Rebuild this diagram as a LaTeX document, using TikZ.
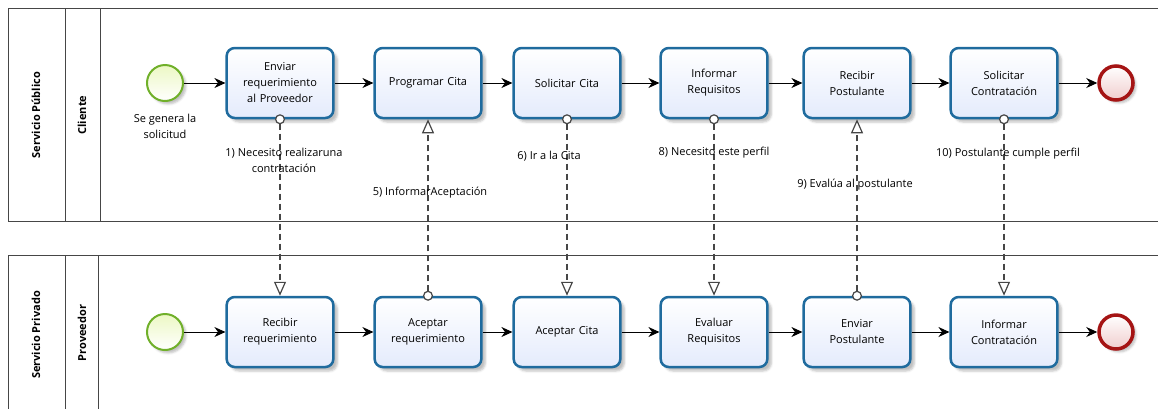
\documentclass[tikz,border=0pt]{standalone}
\usepackage{fontspec}
\setmainfont{Open Sans}
\usetikzlibrary{arrows.meta,positioning,shadows.blur}
\definecolor{azulTarea}{RGB}{31,107,158}
\definecolor{azulClaro}{RGB}{228,235,252}
\definecolor{verdeInicio}{RGB}{112,176,42}
\definecolor{verdeClaro}{RGB}{236,248,196}
\definecolor{rojoFin}{RGB}{165,20,20}
\definecolor{rojoClaro}{RGB}{240,205,205}
\definecolor{grisLinea}{RGB}{70,70,70}

\begin{document}
\begin{tikzpicture}[x=1pt,y=-1pt,font=\fontsize{11}{16}\selectfont,
  tarea/.style={rectangle,rounded corners=8pt,minimum width=104pt,minimum height=70pt,
               text width=100pt,align=center,draw=azulTarea,line width=2.5pt,
               top color=white,bottom color=azulClaro,
               blur shadow={shadow xshift=4pt,shadow yshift=-4pt,shadow opacity=25}},
  inicio/.style={circle,minimum size=36pt,inner sep=0pt,draw=verdeInicio,line width=2pt,
               top color=verdeClaro,bottom color=white,
               blur shadow={shadow xshift=3pt,shadow yshift=-3pt,shadow opacity=25}},
  fin/.style={circle,minimum size=34pt,inner sep=0pt,draw=rojoFin,line width=3.5pt,
               top color=white,bottom color=rojoClaro,
               blur shadow={shadow xshift=3pt,shadow yshift=-3pt,shadow opacity=25}},
  flujo/.style={-{Stealth[length=11pt,width=10pt]},line width=1pt,black},
  mensaje/.style={{Circle[open,length=10pt,width=10pt,fill=white]}-{Triangle[open,length=14pt,width=12pt,fill=white]},
               grisLinea,line width=1.2pt,dash pattern=on 6pt off 4pt,shorten <=-5pt},
  etiqueta/.style={align=center,text=black,inner sep=0pt}]

  \useasboundingbox (0,0) rectangle (1158,408);
  \clip (0,0) rectangle (1158,408);

  % piscinas
  \draw[grisLinea,line width=1pt] (8,8) rectangle (1170,221);
  \draw[grisLinea,line width=1pt] (65,8) -- (65,221) (100,8) -- (100,221);
  \draw[grisLinea,line width=1pt] (8,255) rectangle (1170,430);
  \draw[grisLinea,line width=1pt] (65,255) -- (65,430) (98,255) -- (98,430);
  \node[rotate=90,font=\fontsize{11}{12}\selectfont\bfseries] (PoolA) at (36,115) {Servicio Público};
  \node[rotate=90,font=\fontsize{11}{12}\selectfont\bfseries] (LaneA) at (82,115) {Cliente};
  \node[rotate=90,font=\fontsize{11}{12}\selectfont\bfseries] (PoolB) at (36,335) {Servicio Privado};
  \node[rotate=90,font=\fontsize{11}{12}\selectfont\bfseries] (LaneB) at (82,333) {Proveedor};

  % cliente
  \node[inicio] (IC) at (165,83) {};
  \node[etiqueta,below=12pt of IC] (ICtxt) {Se genera la\\solicitud};
  \node[tarea] (C1) at (280,83) {Enviar\\requerimiento\\al Proveedor};
  \node[tarea] (C2) at (428,83) {Programar Cita};
  \node[tarea] (C3) at (567,83) {Solicitar Cita};
  \node[tarea] (C4) at (714,83) {Informar\\Requisitos};
  \node[tarea] (C5) at (857,83) {Recibir\\Postulante};
  \node[tarea] (C6) at (1004,83) {Solicitar\\Contratación};
  \node[fin] (FC) at (1116,83) {};

  % proveedor
  \node[inicio] (IP) at (165,332) {};
  \node[tarea] (P1) at (280,332) {Recibir\\requerimiento};
  \node[tarea] (P2) at (428,332) {Aceptar\\requerimiento};
  \node[tarea] (P3) at (567,332) {Aceptar Cita};
  \node[tarea] (P4) at (714,332) {Evaluar\\Requisitos};
  \node[tarea] (P5) at (857,332) {Enviar\\Postulante};
  \node[tarea] (P6) at (1004,332) {Informar\\Contratación};
  \node[fin] (FP) at (1116,332) {};

  \draw[flujo] (IC) -- (C1);
  \draw[flujo] (C1) -- (C2);
  \draw[flujo] (C2) -- (C3);
  \draw[flujo] (C3) -- (C4);
  \draw[flujo] (C4) -- (C5);
  \draw[flujo] (C5) -- (C6);
  \draw[flujo] (C6) -- (FC);

  \draw[flujo] (IP) -- (P1);
  \draw[flujo] (P1) -- (P2);
  \draw[flujo] (P2) -- (P3);
  \draw[flujo] (P3) -- (P4);
  \draw[flujo] (P4) -- (P5);
  \draw[flujo] (P5) -- (P6);
  \draw[flujo] (P6) -- (FP);

  % mensajes
  \draw[mensaje] (C1.south) -- (P1.north)
    node[etiqueta,pos=0.235,xshift=4pt] {1) Necesito realizaruna\\contratación};
  \draw[mensaje] (P2.north) -- (C2.south)
    node[etiqueta,pos=0.587,xshift=2pt] {5) InformarAceptación};
  \draw[mensaje] (C3.south) -- (P3.north)
    node[etiqueta,pos=0.207,xshift=-18pt] {6) Ir a la Cita};
  \draw[mensaje] (C4.south) -- (P4.north)
    node[etiqueta,pos=0.19] {8) Necesito este perfil};
  \draw[mensaje] (P5.north) -- (C5.south)
    node[etiqueta,pos=0.631,xshift=-2pt] {9) Evalúa al postulante};
  \draw[mensaje] (C6.south) -- (P6.north)
    node[etiqueta,pos=0.196,xshift=4pt] {10) Postulante cumple perfil};
\end{tikzpicture}
\end{document}
